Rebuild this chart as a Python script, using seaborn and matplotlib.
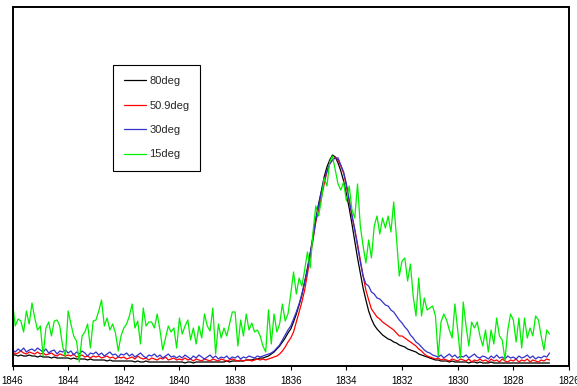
import numpy as np
import pandas as pd
import matplotlib
matplotlib.use("Agg")
import matplotlib.pyplot as plt
import seaborn as sns

# ---------------- data ----------------
wavenumber = np.round(np.linspace(1846.0, 1826.7, 194), 1)

labels = ["80deg", "50.9deg", "30deg", "15deg"]
colors = ["#000000", "#ff0000", "#3333cc", "#00ee00"]
x_ticks = [1846, 1844, 1842, 1840, 1838, 1836, 1834, 1832, 1830, 1828, 1826]

deg80 = [
    11, 11, 10, 11, 10, 10, 11, 10, 10, 9,
    10, 9, 9, 9, 8, 9, 8, 8, 8, 8,
    8, 7, 8, 7, 7, 7, 7, 6, 7, 6,
    6, 6, 6, 6, 5, 6, 5, 5, 5, 5,
    5, 5, 5, 5, 4, 5, 4, 4, 5, 4,
    4, 4, 4, 4, 4, 4, 4, 4, 4, 4,
    4, 4, 3, 4, 4, 3, 4, 4, 4, 4,
    4, 4, 4, 4, 4, 4, 4, 5, 4, 5,
    5, 5, 5, 5, 6, 6, 6, 7, 7, 8,
    8, 9, 10, 12, 14, 17, 20, 24, 28, 33,
    37, 44, 52, 61, 71, 84, 98, 113, 130, 147,
    162, 175, 189, 199, 206, 211, 209, 203, 195, 185,
    172, 158, 142, 125, 108, 93, 78, 66, 55, 47,
    41, 37, 34, 31, 29, 27, 26, 24, 23, 21,
    20, 19, 17, 16, 15, 14, 12, 11, 10, 9,
    8, 7, 6, 6, 5, 5, 5, 4, 5, 4,
    4, 4, 4, 4, 3, 4, 4, 3, 4, 3,
    3, 3, 4, 3, 3, 3, 3, 3, 3, 3,
    3, 3, 3, 3, 3, 3, 3, 3, 3, 3,
    3, 3, 3, 3,
]

deg50_9 = [
    14, 12, 13, 15, 13, 12, 14, 13, 12, 14,
    12, 13, 11, 12, 13, 11, 10, 12, 11, 10,
    11, 10, 12, 9, 10, 11, 9, 10, 8, 10,
    9, 10, 8, 9, 10, 8, 9, 7, 9, 8,
    9, 7, 8, 9, 7, 10, 8, 7, 8, 6,
    8, 7, 6, 8, 7, 9, 6, 7, 8, 6,
    7, 6, 8, 6, 7, 5, 7, 6, 5, 7,
    6, 5, 7, 6, 5, 7, 6, 5, 6, 7,
    6, 5, 6, 5, 6, 6, 5, 6, 7, 6,
    7, 6, 7, 8, 9, 10, 12, 15, 19, 24,
    28, 34, 44, 54, 64, 76, 92, 110, 126, 144,
    156, 168, 182, 194, 202, 206, 209, 206, 200, 193,
    180, 165, 150, 137, 122, 106, 90, 76, 66, 57,
    53, 49, 47, 44, 42, 40, 38, 36, 33, 30,
    30, 28, 26, 24, 22, 20, 17, 15, 12, 10,
    9, 8, 7, 8, 6, 7, 6, 5, 7, 6,
    5, 7, 6, 5, 7, 4, 6, 5, 7, 5,
    6, 4, 7, 5, 6, 4, 7, 5, 4, 6,
    5, 7, 4, 6, 5, 7, 4, 6, 5, 4,
    6, 5, 7, 6,
]

deg30 = [
    16, 14, 17, 15, 18, 14, 16, 17, 15, 18,
    16, 14, 17, 13, 15, 16, 12, 15, 14, 16,
    13, 15, 11, 14, 12, 15, 13, 10, 13, 12,
    14, 11, 13, 10, 12, 14, 11, 12, 9, 12,
    11, 13, 10, 12, 9, 11, 13, 10, 8, 11,
    10, 12, 9, 11, 8, 10, 12, 9, 10, 8,
    10, 8, 11, 9, 7, 10, 8, 11, 9, 7,
    9, 11, 8, 10, 7, 9, 8, 10, 7, 9,
    8, 10, 7, 9, 8, 10, 9, 8, 10, 9,
    10, 11, 12, 13, 15, 18, 21, 26, 31, 36,
    40, 47, 54, 62, 72, 84, 96, 112, 128, 146,
    160, 174, 186, 195, 202, 206, 208, 208, 201, 194,
    182, 166, 151, 136, 120, 104, 90, 82, 80, 74,
    72, 68, 67, 64, 61, 60, 56, 54, 50, 46,
    43, 39, 36, 31, 28, 24, 22, 19, 16, 14,
    13, 11, 10, 9, 11, 8, 10, 12, 9, 11,
    8, 10, 9, 11, 8, 10, 12, 9, 8, 10,
    9, 7, 10, 8, 11, 8, 9, 7, 10, 8,
    9, 7, 10, 8, 9, 11, 8, 10, 7, 9,
    8, 10, 9, 13,
]

deg15 = [
    64, 40, 47, 45, 34, 55, 42, 63, 48, 36,
    40, 10, 38, 44, 30, 45, 46, 40, 20, 9,
    55, 42, 30, 25, 4, 30, 34, 42, 18, 45,
    46, 55, 66, 40, 48, 36, 42, 33, 15, 30,
    38, 42, 50, 62, 38, 45, 22, 58, 40, 44,
    44, 38, 52, 36, 16, 28, 40, 34, 38, 18,
    48, 32, 40, 46, 26, 38, 22, 40, 28, 52,
    40, 35, 58, 12, 42, 28, 38, 30, 42, 54,
    54, 20, 46, 30, 52, 36, 43, 34, 36, 30,
    20, 14, 56, 22, 52, 34, 42, 62, 45, 52,
    72, 94, 72, 88, 80, 96, 114, 98, 134, 160,
    150, 166, 188, 180, 204, 210, 196, 182, 176, 184,
    165, 180, 156, 148, 182, 140, 120, 103, 126, 108,
    140, 150, 132, 148, 138, 150, 134, 164, 128, 90,
    105, 108, 85, 102, 70, 50, 88, 50, 68, 56,
    58, 60, 50, 10, 44, 52, 46, 36, 28, 62,
    36, 8, 64, 40, 20, 44, 38, 44, 30, 20,
    36, 14, 36, 22, 48, 30, 26, 6, 36, 52,
    46, 24, 48, 18, 48, 28, 38, 30, 50, 46,
    30, 16, 36, 32,
]

series = [deg80, deg50_9, deg30, deg15]

frames = []
for lab, vals in zip(labels, series):
    frames.append(pd.DataFrame({"wavenumber": wavenumber,
                                "intensity": vals,
                                "angle": lab}))
df = pd.concat(frames, ignore_index=True)

# ---------------- plot ----------------
sns.set_style("white")
plt.rcParams["font.family"] = ["Liberation Sans", "DejaVu Sans"]

W, H = 577, 386
fig = plt.figure(figsize=(W / 100, H / 100), dpi=100)
ax = fig.add_axes([12.5 / W, 20 / H, (569 - 12.5) / W, 359 / H])

sns.lineplot(data=df, x="wavenumber", y="intensity", hue="angle",
             hue_order=labels, palette=colors, sort=False, estimator=None,
             linewidth=0.9, legend=False, ax=ax)

ax.set_xlim(1846, 1826)
ax.set_ylim(0, 359)
ax.set_xticks(x_ticks)
ax.set_xticklabels([str(t) for t in x_ticks])
ax.set_yticks([])
ax.set_xlabel("")
ax.set_ylabel("")
ax.tick_params(axis="x", direction="out", length=3, width=0.8,
               pad=4, labelsize=7, colors="black", bottom=True)
for s in ax.spines.values():
    s.set_visible(True)
    s.set_color("black")
    s.set_linewidth(1.4)

leg = ax.legend(ax.lines[:4], labels, loc="upper left",
                bbox_to_anchor=(113 / W, 1 - 65 / H),
                bbox_transform=fig.transFigure, borderaxespad=0,
                fontsize=8, frameon=True, fancybox=False, shadow=False,
                framealpha=1, edgecolor="black", borderpad=1.0,
                labelspacing=1.3, handlelength=2.0, handletextpad=0.25)
leg.get_frame().set_linewidth(0.8)

fig.savefig("out.png", dpi=100)
